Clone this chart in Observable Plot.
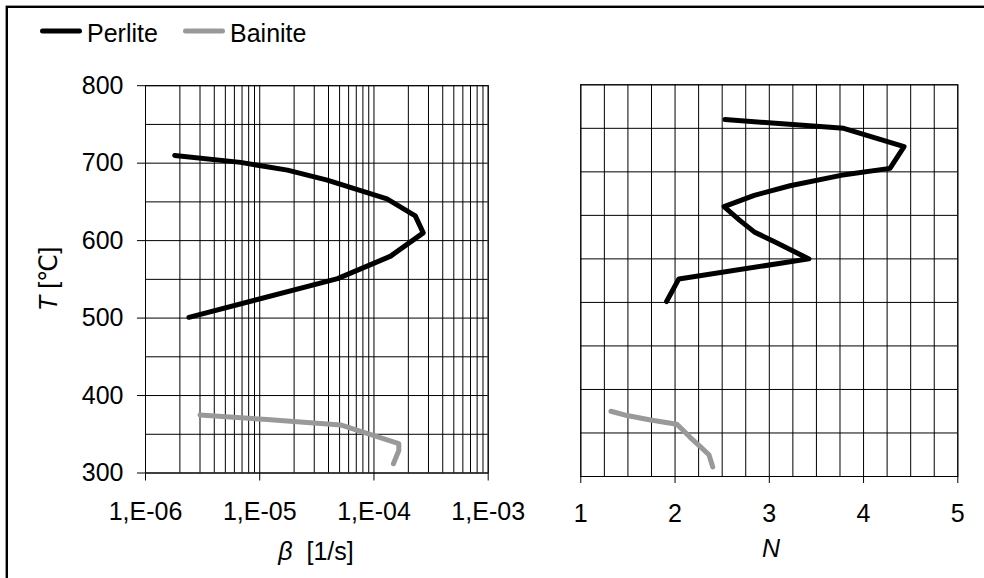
<!DOCTYPE html>
<html><head><meta charset="utf-8">
<script src="https://cdn.jsdelivr.net/npm/d3@7"></script>
<script src="https://cdn.jsdelivr.net/npm/@observablehq/plot@0.6"></script>
<style>
body{margin:0;background:#fff;}
#root{position:relative;width:984px;height:578px;overflow:hidden;background:#fff;}
#root svg{position:absolute;}
</style></head><body><div id="root"></div>
<script>
// ---------- data ----------
const seriesNames = ["Perlite", "Bainite"];
const seriesColors = ["#000000", "#999999"];

// left panel: cooling rate beta [1/s] vs temperature T
const perliteT_beta = [710, 701, 691, 678, 654, 632, 610, 580, 551, 501];
const perliteBeta   = [1.8e-6, 6.8e-6, 1.75e-5, 3.9e-5, 1.3e-4, 2.3e-4, 2.7e-4, 1.4e-4, 4.8e-5, 2.4e-6];
const bainiteT_beta = [375, 369, 362, 338, 329, 312];
const bainiteBeta   = [3.0e-6, 1.16e-5, 5.1e-5, 1.65e-4, 1.65e-4, 1.48e-4];

// right panel: exponent N vs temperature T
const perliteT_N = [710, 700, 679, 654, 646, 634, 623, 610, 594, 581, 570, 550, 527, 501];
const perliteN   = [2.53, 3.79, 4.43, 4.28, 3.76, 3.22, 2.84, 2.52, 2.69, 2.84, 3.05, 3.42, 2.04, 1.91];
const bainiteT_N = [375, 370, 365, 360, 345, 334, 325, 311];
const bainiteN   = [1.32, 1.49, 1.74, 2.02, 2.16, 2.27, 2.36, 2.40];

// ticks
const betaTicks = [1e-6, 1e-5, 1e-4, 1e-3];
const betaTickLabels = ["1,E-06", "1,E-05", "1,E-04", "1,E-03"];
const tTicks = [300, 400, 500, 600, 700, 800];
const nTicks = [1, 2, 3, 4, 5];
const nTickLabels = ["1", "2", "3", "4", "5"];

// ---------- layout ----------
const W = 984, H = 578;
const FONT = "'Liberation Sans', Arial, 'DejaVu Sans', sans-serif";
const FS = 25;

const betaGrid = [];
for (let e = -6; e <= -4; e++) for (let k = 1; k <= 9; k++) betaGrid.push(k * Math.pow(10, e));
betaGrid.push(1e-3);
const tGridLeft = d3.range(300, 801, 50);
const tGridRight = d3.range(300, 751, 50);
const nGrid = d3.range(0, 17).map(i => 1 + i * 0.25);

const rows = (xs, ts) => xs.map((x, i) => ({x, T: ts[i]}));

const root = document.getElementById("root");

const leftW = 520;
const left = Plot.plot({
  width: leftW, height: H,
  marginLeft: 145, marginRight: leftW - 487.7, marginTop: 85.2, marginBottom: H - 472.5,
  style: {fontFamily: FONT, fontSize: FS + "px", color: "#000", background: "transparent", overflow: "visible"},
  x: {type: "log", domain: [1e-6, 1e-3]},
  y: {domain: [300, 800]},
  marks: [
    Plot.ruleX(betaGrid, {stroke: "#000", strokeWidth: 1}),
    Plot.ruleY(tGridLeft, {stroke: "#000", strokeWidth: 1}),
    Plot.frame({stroke: "#000", strokeWidth: 1}),
    Plot.axisX(betaTicks, {tickSize: 8, tickPadding: 21, label: null, fontSize: FS,
      tickFormat: d => betaTickLabels[betaTicks.indexOf(d)]}),
    Plot.axisY(tTicks, {tickSize: 8, tickPadding: 14, label: null, fontSize: FS,
      tickFormat: d => String(d)}),
    Plot.line(rows(bainiteBeta, bainiteT_beta), {x: "x", y: "T", stroke: seriesColors[1], strokeWidth: 5,
      strokeLinecap: "round", strokeLinejoin: "round"}),
    Plot.line(rows(perliteBeta, perliteT_beta), {x: "x", y: "T", stroke: seriesColors[0], strokeWidth: 5,
      strokeLinecap: "round", strokeLinejoin: "round"})
  ]
});
left.style.left = "0px"; left.style.top = "0px";
root.appendChild(left);

const rightX = 520, rightW = W - rightX;
const right = Plot.plot({
  width: rightW, height: H,
  marginLeft: 580.3 - rightX, marginRight: W - 957.3, marginTop: 84.3, marginBottom: H - 476,
  style: {fontFamily: FONT, fontSize: FS + "px", color: "#000", background: "transparent", overflow: "visible"},
  x: {domain: [1, 5]},
  y: {domain: [300, 750], axis: null},
  marks: [
    Plot.ruleX(nGrid, {stroke: "#000", strokeWidth: 1}),
    Plot.ruleY(tGridRight, {stroke: "#000", strokeWidth: 1}),
    Plot.frame({stroke: "#000", strokeWidth: 1}),
    Plot.axisX(nTicks, {tickSize: 7, tickPadding: 21, label: null, fontSize: FS,
      tickFormat: d => nTickLabels[nTicks.indexOf(d)]}),
    Plot.line(rows(bainiteN, bainiteT_N), {x: "x", y: "T", stroke: seriesColors[1], strokeWidth: 5,
      strokeLinecap: "round", strokeLinejoin: "round"}),
    Plot.line(rows(perliteN, perliteT_N), {x: "x", y: "T", stroke: seriesColors[0], strokeWidth: 5,
      strokeLinecap: "round", strokeLinejoin: "round"})
  ]
});
right.style.left = rightX + "px"; right.style.top = "0px";
root.appendChild(right);

// ---------- overlay: border, legend, axis titles ----------
const ov = d3.create("svg").attr("width", W).attr("height", H)
  .style("left", "0px").style("top", "0px")
  .attr("font-family", FONT).attr("font-size", FS).attr("fill", "#000");
ov.append("rect").attr("x", 6.8).attr("y", 6.8).attr("width", 1200).attr("height", 800)
  .attr("fill", "none").attr("stroke", "#000").attr("stroke-width", 2.4);

const legendItems = [
  {name: seriesNames[0], color: seriesColors[0], x1: 42.5, x2: 79.5, tx: 87},
  {name: seriesNames[1], color: seriesColors[1], x1: 185.5, x2: 222.5, tx: 230}
];
for (const it of legendItems) {
  ov.append("line").attr("x1", it.x1).attr("x2", it.x2).attr("y1", 31).attr("y2", 31)
    .attr("stroke", it.color).attr("stroke-width", 5).attr("stroke-linecap", "round");
  ov.append("text").attr("x", it.tx).attr("y", 41.5).text(it.name);
}

const yt = ov.append("text").attr("transform", "translate(48,279) rotate(-90)")
  .attr("text-anchor", "middle").attr("dy", "0.35em");
yt.append("tspan").attr("font-style", "italic").text("T");
yt.append("tspan").text(" [\u2103]");

const xt = ov.append("text").attr("x", 316).attr("y", 560).attr("text-anchor", "middle");
xt.append("tspan").attr("font-style", "italic").text("\u03B2");
xt.append("tspan").text("\u00A0\u00A0[1/s]");

ov.append("text").attr("x", 771).attr("y", 557).attr("text-anchor", "middle")
  .attr("font-style", "italic").text("N");

root.appendChild(ov.node());
</script>
</body></html>
